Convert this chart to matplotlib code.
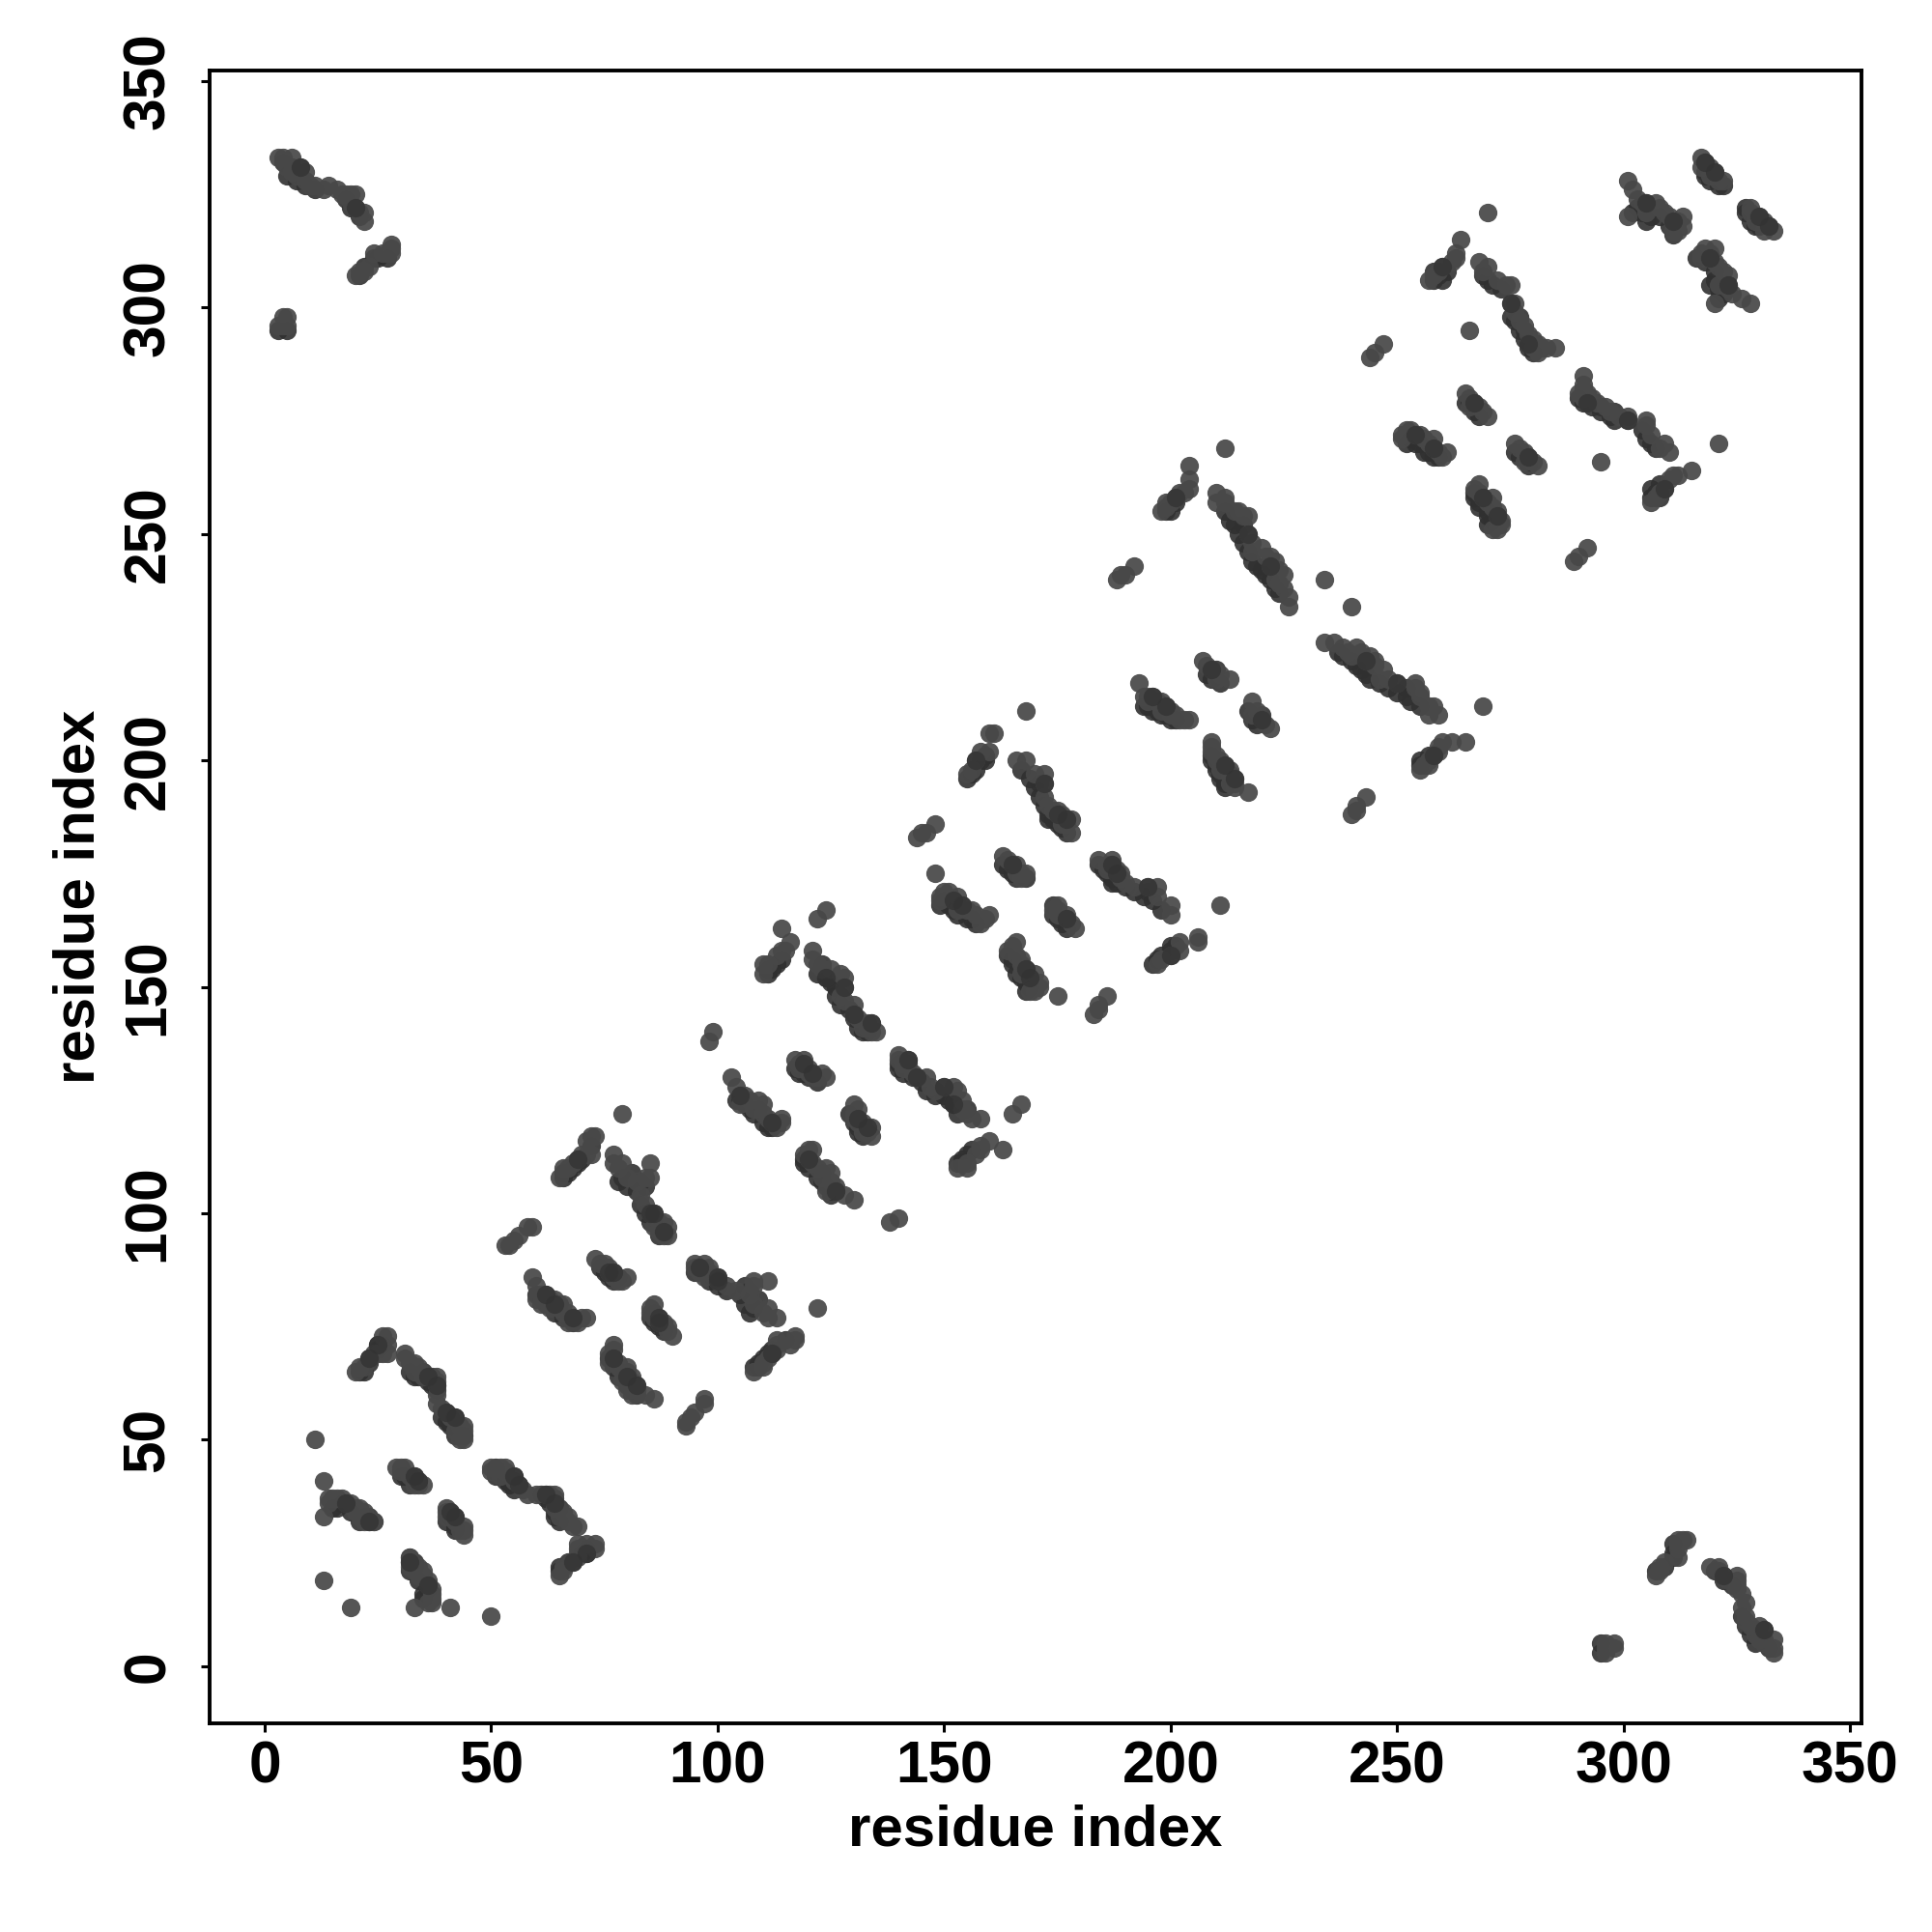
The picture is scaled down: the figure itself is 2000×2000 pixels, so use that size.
import matplotlib
matplotlib.use("Agg")
import matplotlib.pyplot as plt
import numpy as np

plt.rcParams["font.family"] = ["Liberation Sans", "DejaVu Sans"]
plt.rcParams["font.weight"] = "bold"

# contacts (i, j) with i < j, read from the part above the diagonal
repeat1 = [(11, 50), (13, 41), (13, 33), (13, 19),
           (14, 36), (14, 37), (15, 37), (16, 37), (17, 37), (18, 36), (19, 36), (20, 35),
           (20, 34), (21, 35), (21, 33), (22, 34), (22, 32), (23, 32), (24, 32), (24, 32),
           (29, 44), (30, 44), (31, 44), (30, 43), (32, 42), (33, 42), (34, 41), (34, 40), (35, 40), (33, 40),
           (20, 65), (21, 66), (22, 66), (23, 68), (24, 69), (26, 73), (27, 73), (27, 71), (27, 69), (26, 69), (25, 69),
           (31, 69), (31, 68), (32, 67), (33, 67), (33, 65), (34, 66), (35, 64), (36, 64), (38, 64),
           (38, 63), (38, 62), (38, 60), (38, 58), (39, 57), (40, 56), (41, 55), (42, 55), (43, 53),
           (44, 53), (44, 52), (44, 50), (43, 50), (42, 52)]
repeat2 = [(53, 93), (54, 93), (55, 94), (56, 95), (58, 97), (59, 97),
           (59, 86), (60, 84), (60, 81), (61, 82), (62, 82), (63, 80), (64, 81), (65, 79), (66, 80),
           (67, 78), (68, 77), (69, 76), (70, 77), (71, 77), (61, 80), (63, 79), (66, 78), (67, 76),
           (65, 108), (66, 110), (67, 110), (68, 111), (69, 112), (70, 113), (71, 116), (72, 117),
           (71, 113), (72, 113), (73, 117),
           (73, 90), (74, 89), (75, 89), (76, 87), (77, 87), (78, 85), (79, 85), (80, 86), (76, 88), (77, 86),
           (77, 113), (77, 111), (78, 110), (79, 111), (80, 108), (82, 107), (84, 108), (85, 111), (85, 108),
           (83, 104), (84, 102), (85, 100), (86, 100), (87, 98), (88, 98), (89, 97), (89, 95), (88, 95),
           (87, 96), (86, 97), (79, 122)]
repeat3 = [(98, 138), (99, 140),
           (103, 130), (104, 128), (105, 124), (105, 126), (106, 126), (107, 125), (108, 123), (109, 125),
           (110, 124), (110, 122), (111, 121), (112, 120), (113, 119), (114, 120), (114, 121),
           (110, 153), (110, 155), (111, 155), (113, 157), (114, 158), (115, 158), (114, 163), (116, 160),
           (122, 165), (124, 167),
           (117, 134), (118, 133), (119, 134), (120, 132), (120, 131), (121, 130), (122, 130), (123, 131),
           (124, 130), (118, 132),
           (121, 158), (121, 156), (122, 155), (123, 154), (125, 154), (127, 153), (128, 152), (128, 150),
           (127, 148), (128, 147), (130, 146), (130, 144), (131, 143), (133, 142), (134, 142), (135, 140),
           (134, 140), (133, 141), (132, 141)]
repeat4 = [(144, 183), (145, 184), (148, 186), (146, 184),
           (148, 175), (149, 170), (149, 169), (150, 171), (151, 171), (152, 169), (153, 170), (154, 168),
           (155, 167), (156, 167), (157, 166), (158, 164), (159, 165), (160, 166), (153, 167),
           (155, 197), (156, 198), (157, 200), (158, 202), (160, 202), (160, 206), (161, 206), (168, 211),
           (163, 179), (164, 178), (165, 177), (166, 175), (167, 175), (168, 175), (166, 177), (167, 174),
           (166, 200), (168, 200), (170, 197), (172, 197), (172, 195), (172, 192), (173, 190), (174, 189),
           (175, 189), (176, 188), (177, 187), (178, 187), (178, 184), (177, 186), (176, 186), (175, 188)]
repeat5 = [(188, 240), (189, 241), (190, 241), (192, 243),
           (193, 217), (194, 214), (195, 214), (196, 214), (197, 213), (198, 213), (199, 212), (200, 210),
           (201, 210), (202, 209), (203, 209), (204, 209), (200, 211), (195, 213), (198, 211),
           (198, 255), (199, 257), (200, 257), (201, 258), (202, 259), (203, 259), (204, 260), (204, 262),
           (204, 265), (199, 256), (212, 269),
           (207, 222), (208, 221), (209, 220), (210, 218), (211, 219), (213, 218),
           (210, 259), (210, 257), (212, 258), (215, 255), (216, 254), (217, 254), (217, 250), (218, 248),
           (218, 246), (220, 247), (221, 245), (222, 245), (222, 243), (223, 244), (224, 242), (225, 241),
           (225, 238), (226, 236), (226, 234), (224, 239), (223, 240), (212, 257), (214, 255), (234, 240)]
repeat6 = [(244, 289), (245, 290), (247, 292),
           (251, 272), (251, 271), (252, 273), (253, 273), (254, 272), (255, 272), (256, 271), (257, 270),
           (258, 269), (259, 268), (260, 267), (261, 268), (258, 271),
           (257, 306), (258, 307), (259, 308), (260, 309), (262, 310), (263, 311), (264, 315), (263, 312),
           (270, 321), (266, 295),
           (265, 281), (266, 280), (267, 279), (268, 278), (269, 277), (270, 276), (266, 278),
           (268, 310), (269, 308), (270, 309), (272, 306), (274, 305), (275, 305), (275, 301), (276, 299),
           (277, 297), (278, 296), (279, 294), (280, 293), (281, 292), (282, 291), (283, 291), (285, 291),
           (281, 290), (280, 291), (279, 292), (276, 301),
           (301, 328), (302, 326), (301, 320), (303, 324), (304, 323), (305, 323), (307, 323), (308, 322),
           (309, 321), (310, 320), (311, 319), (312, 319), (313, 318), (313, 320), (312, 317), (311, 317), (305, 321),
           (317, 333), (317, 331), (318, 332), (319, 331), (320, 330), (321, 328), (322, 328), (319, 329), (318, 332)]
corner = [(3, 333), (4, 333), (5, 331), (6, 333), (6, 330), (7, 329), (8, 331), (9, 330), (9, 328),
          (10, 327), (11, 327), (13, 326), (14, 327), (16, 326), (17, 325), (18, 325), (19, 325),
          (20, 325), (19, 323), (20, 322), (22, 321), (22, 319), (21, 321),
          (3, 296), (4, 296), (4, 298), (5, 298), (5, 296),
          (20, 307), (21, 308), (22, 308), (23, 309), (24, 312), (26, 312), (28, 314), (28, 312), (27, 312), (28, 313)]

# the darker contacts that sit under the bands and make them wider
under = [(15, 35), (17, 36), (19, 34), (21, 32), (23, 33), (16, 35), (22, 33), (30, 42), (31, 42), (32, 40), (33, 41),
         (21, 65), (23, 67), (25, 71), (26, 71), (25, 70), (22, 65), (32, 65), (33, 64), (35, 65), (36, 63), (37, 62),
         (38, 61), (39, 55), (40, 54), (41, 53), (42, 51), (43, 51), (44, 51), (41, 54), (37, 64), (34, 64),
         (60, 82), (62, 80), (64, 78), (66, 77), (68, 76), (61, 81), (63, 81), (65, 80), (67, 77), (66, 108), (67, 109),
         (68, 110), (69, 111), (70, 112), (72, 115), (66, 109), (74, 88), (75, 87), (76, 86), (77, 85), (78, 86),
         (78, 107), (79, 108), (80, 106), (82, 105), (83, 102), (84, 100), (85, 98), (86, 99), (87, 95), (88, 96),
         (84, 106), (81, 109), (83, 107),
         (104, 125), (106, 124), (108, 122), (110, 120), (112, 119), (105, 125), (107, 123), (109, 123), (111, 119),
         (111, 153), (112, 154), (113, 155), (111, 154), (114, 156), (118, 131), (119, 131), (120, 130), (122, 129),
         (117, 132), (122, 153), (124, 152), (126, 150), (126, 148), (127, 146), (129, 145), (130, 143), (131, 141),
         (132, 140), (133, 140), (123, 155), (125, 151),
         (149, 168), (151, 168), (153, 166), (155, 165), (157, 164), (150, 169), (152, 167), (156, 165), (155, 196),
         (157, 198), (158, 200), (156, 197), (159, 201), (159, 200), (163, 177), (164, 176), (165, 175), (166, 174),
         (168, 174), (167, 198), (169, 196), (170, 194), (171, 192), (172, 190), (173, 188), (174, 187), (175, 186),
         (176, 185), (177, 184), (171, 195), (173, 187),
         (194, 212), (196, 211), (198, 210), (200, 209), (195, 212), (197, 211), (199, 210), (201, 209), (199, 255),
         (200, 255), (201, 257), (208, 219), (209, 218), (211, 217), (210, 220), (213, 253), (214, 252), (215, 250),
         (216, 248), (217, 246), (218, 244), (219, 243), (220, 242), (221, 241), (222, 240), (223, 238), (224, 237),
         (216, 252), (212, 255),
         (252, 270), (254, 270), (256, 268), (258, 267), (253, 271), (255, 270), (257, 268), (259, 267), (258, 306),
         (259, 307), (260, 306), (261, 308), (258, 308), (266, 279), (267, 277), (268, 276), (265, 279), (269, 307),
         (270, 306), (271, 305), (273, 304), (275, 298), (276, 297), (277, 295), (278, 293), (279, 291), (280, 290),
         (278, 295), (277, 298), (302, 321), (304, 321), (306, 320), (308, 320), (310, 318), (311, 316), (303, 322),
         (305, 319), (318, 330), (319, 328), (320, 329), (318, 329), (321, 327), (322, 327),
         (5, 329), (7, 328), (9, 327), (11, 326), (4, 332), (6, 331), (8, 329), (18, 324), (19, 322), (21, 320),
         (5, 295), (3, 295), (21, 307), (22, 309), (24, 311), (25, 311), (27, 311)]

# the darkest contacts, drawn on top
dark = [(23, 32), (18, 36), (34, 41), (33, 42), (23, 68), (36, 64), (38, 62), (42, 55), (62, 82), (68, 77), (69, 112),
        (76, 87), (77, 87), (85, 100), (88, 96), (105, 126), (112, 120), (119, 133), (121, 131), (128, 150), (130, 144),
        (134, 142), (152, 169), (154, 168), (157, 200), (165, 177), (172, 195), (175, 188), (196, 214), (199, 212),
        (201, 258), (209, 220), (217, 250), (222, 243), (254, 272), (258, 269), (260, 309), (267, 279), (275, 301),
        (279, 292), (305, 323), (311, 319), (318, 332), (320, 330), (20, 322), (8, 331), (25, 71), (40, 56), (64, 80),
        (86, 100), (124, 152), (177, 187)]

ticks = [0, 50, 100, 150, 200, 250, 300, 350]


def both_sides(contacts):
    p = np.array(contacts)
    return np.concatenate([p[:, 0], p[:, 1]]), np.concatenate([p[:, 1], p[:, 0]])


fig = plt.figure(figsize=(10, 10), dpi=200)
ax = fig.add_axes([217 / 2000, 1 - 1784 / 2000, (1927 - 217) / 2000, (1784 - 73) / 2000])

xu, yu = both_sides(under)
ax.scatter(xu, yu, s=48, color="#303030", alpha=0.9, linewidths=0)
xm, ym = both_sides(repeat1 + repeat2 + repeat3 + repeat4 + repeat5 + repeat6 + corner)
ax.scatter(xm, ym, s=48, color="#484848", alpha=0.93, linewidths=0)
xd, yd = both_sides(dark)
ax.scatter(xd, yd, s=48, color="#333333", alpha=0.8, linewidths=0)

ax.set_xlim(-12.15, 352.5)
ax.set_ylim(-12.6, 352.3)

ax.set_xticks(ticks)
ax.set_yticks(ticks)
ax.tick_params(axis="x", length=3.2, width=1.1, labelsize=21.8, pad=3)
ax.tick_params(axis="y", length=3.2, width=1.1, labelsize=21.8, pad=9)
plt.setp(ax.get_yticklabels(), rotation=90, va="center")
for s in ax.spines.values():
    s.set_linewidth(1.4)

ax.set_xlabel("residue index", fontsize=21.6, fontweight="bold", labelpad=3.5)
ax.set_ylabel("residue index", fontsize=21.6, fontweight="bold", labelpad=6)

fig.savefig("out.png", dpi=200)
